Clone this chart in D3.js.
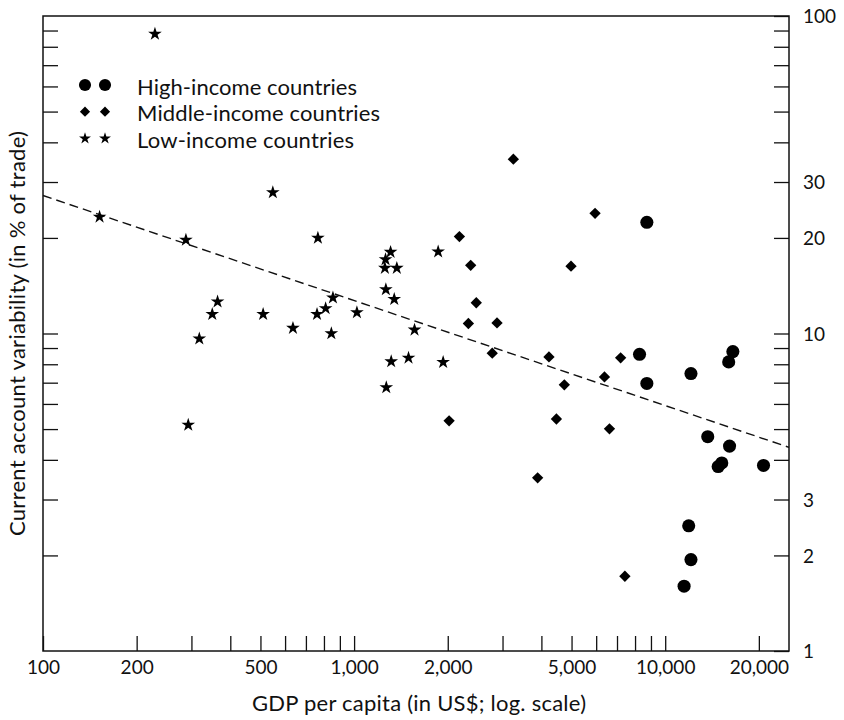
<!DOCTYPE html>
<html>
<head>
<meta charset="utf-8">
<script src="https://cdn.jsdelivr.net/npm/d3@7"></script>
<style>
  body { margin: 0; background: #fff; }
  text { font-family: Lato, "Open Sans", sans-serif; fill: #111; }
</style>
</head>
<body>
<div id="chart"></div>
<script>
// chart size
const width = 844;
const height = 720;

// high-income countries: [gdp per capita, variability]
const highIncome = [
  [8730, 22.4], [8270, 8.6], [8730, 6.96], [12100, 7.48], [16500, 8.77],
  [16000, 8.14], [13700, 4.73], [16100, 4.42], [15200, 3.91], [14800, 3.81],
  [20700, 3.84], [11900, 2.48], [12100, 1.94], [11500, 1.60]
];

// middle-income countries
const middleIncome = [
  [3250, 35.4], [5950, 23.9], [2180, 20.2], [2370, 16.4], [4980, 16.3],
  [2470, 12.5], [2330, 10.75], [2880, 10.8], [2780, 8.67], [4230, 8.44],
  [7190, 8.38], [6380, 7.30], [4740, 6.89], [4470, 5.38], [6620, 5.01],
  [3890, 3.51], [7420, 1.72], [2020, 5.31]
];

// low-income countries
const lowIncome = [
  [152, 23.3], [229, 87.8], [288, 19.7], [548, 27.8], [765, 20.0],
  [364, 12.6], [350, 11.5], [318, 9.63], [510, 11.5], [636, 10.4],
  [760, 11.5], [810, 12.0], [855, 12.96], [845, 10.0], [1021, 11.65],
  [1310, 18.05], [1262, 17.1], [1256, 16.07], [1372, 16.07], [1265, 13.77],
  [1346, 12.83], [1564, 10.27], [1316, 8.16], [1496, 8.38], [1863, 18.1],
  [1933, 8.12], [1269, 6.76], [293, 5.15]
];

// fitted line end points
const trendLine = [[100, 27.2], [25000, 4.38]];

// axis ticks and labels
const xTicks = [200, 300, 400, 500, 600, 700, 800, 900, 1000,
  2000, 3000, 4000, 5000, 6000, 7000, 8000, 9000, 10000, 20000];
const xLabels = [100, 200, 500, 1000, 2000, 5000, 10000, 20000];
const yTicks = [2, 3, 4, 5, 6, 7, 8, 9, 10, 20, 30, 40, 50, 60, 70, 80, 90];
const yLabels = [1, 2, 3, 10, 20, 30, 100];

const legendItems = ["High-income countries", "Middle-income countries", "Low-income countries"];
const legendWidths = [220, 243, 217];

const margin = {top: 16, right: 55, bottom: 69, left: 43};

const svg = d3.select('#chart').append('svg')
    .attr('width', width)
    .attr('height', height);

const x = d3.scaleLog().domain([100, 25000]).range([margin.left, width - margin.right]);
const y = d3.scaleLog().domain([1, 100]).range([height - margin.bottom, margin.top]);

const fmt = d3.format(',');

// bottom axis (ticks point up, inside the frame)
const xAxis = svg.append('g')
    .attr('transform', `translate(0,${y(1)})`)
    .call(d3.axisBottom(x)
        .tickValues([100].concat(xTicks))
        .tickSize(-15)
        .tickPadding(10)
        .tickFormat(d => xLabels.includes(d) ? fmt(d) : ''));

// right axis with labels
const yAxisRight = svg.append('g')
    .attr('transform', `translate(${x(25000)},0)`)
    .call(d3.axisRight(y)
        .tickValues([1].concat(yTicks, [100]))
        .tickSize(-15)
        .tickPadding(14)
        .tickFormat(d => yLabels.includes(d) ? d : ''));

// left axis, ticks only
const yAxisLeft = svg.append('g')
    .attr('transform', `translate(${x(100)},0)`)
    .call(d3.axisLeft(y)
        .tickValues(yTicks)
        .tickSize(-15)
        .tickFormat(''));

[xAxis, yAxisRight, yAxisLeft].forEach(function(g) {
    g.select('.domain').remove();
    g.selectAll('line').attr('stroke', '#111').attr('stroke-width', 1.3);
    g.selectAll('text').style('font-size', '19px').attr('fill', '#111');
});
yAxisRight.selectAll('text').attr('dy', '0.36em');

// frame
svg.append('rect')
    .attr('x', x(100))
    .attr('y', y(100))
    .attr('width', x(25000) - x(100))
    .attr('height', y(1) - y(100))
    .attr('fill', 'none')
    .attr('stroke', '#111')
    .attr('stroke-width', 1.5);

// dashed fitted line
const line = d3.line().x(d => x(d[0])).y(d => y(d[1]));
svg.append('path')
    .datum(trendLine)
    .attr('d', line)
    .attr('fill', 'none')
    .attr('stroke', '#111')
    .attr('stroke-width', 1.4)
    .attr('stroke-dasharray', '9,5');

// marker shapes
const circle = d3.symbol().type(d3.symbolCircle).size(135);
const diamond = d3.symbol().type(d3.symbolSquare).size(64);
const star = d3.symbol().type(d3.symbolStar).size(58);

function drawPoints(data, sym, rotate) {
    svg.append('g').selectAll('path')
        .data(data)
        .join('path')
        .attr('d', sym)
        .attr('transform', d => `translate(${x(d[0])},${y(d[1])})` + (rotate ? ' rotate(45)' : ''))
        .attr('fill', '#000');
}
drawPoints(lowIncome, star, false);
drawPoints(middleIncome, diamond, true);
drawPoints(highIncome, circle, false);

// legend
const legendSyms = [
    {sym: d3.symbol().type(d3.symbolCircle).size(115), rot: false},
    {sym: d3.symbol().type(d3.symbolSquare).size(52), rot: true},
    {sym: d3.symbol().type(d3.symbolStar).size(44), rot: false}
];
const legend = svg.append('g');
legendItems.forEach(function(label, i) {
    const cy = 85 + i * 26.7;
    [85, 105].forEach(function(cx) {
        legend.append('path')
            .attr('d', legendSyms[i].sym)
            .attr('transform', `translate(${cx},${cy})` + (legendSyms[i].rot ? ' rotate(45)' : ''))
            .attr('fill', '#000');
    });
    legend.append('text')
        .attr('x', 137)
        .attr('y', cy + 9.5)
        .attr('textLength', legendWidths[i])
        .style('font-size', '22px')
        .text(label);
});

// axis titles
svg.append('text')
    .attr('x', 252)
    .attr('y', 711)
    .attr('textLength', 334)
    .style('font-size', '22px')
    .text('GDP per capita (in US$; log. scale)');

svg.append('text')
    .attr('transform', 'translate(25,536) rotate(-90)')
    .attr('textLength', 405)
    .style('font-size', '22px')
    .text('Current account variability (in % of trade)');
</script>
</body>
</html>
